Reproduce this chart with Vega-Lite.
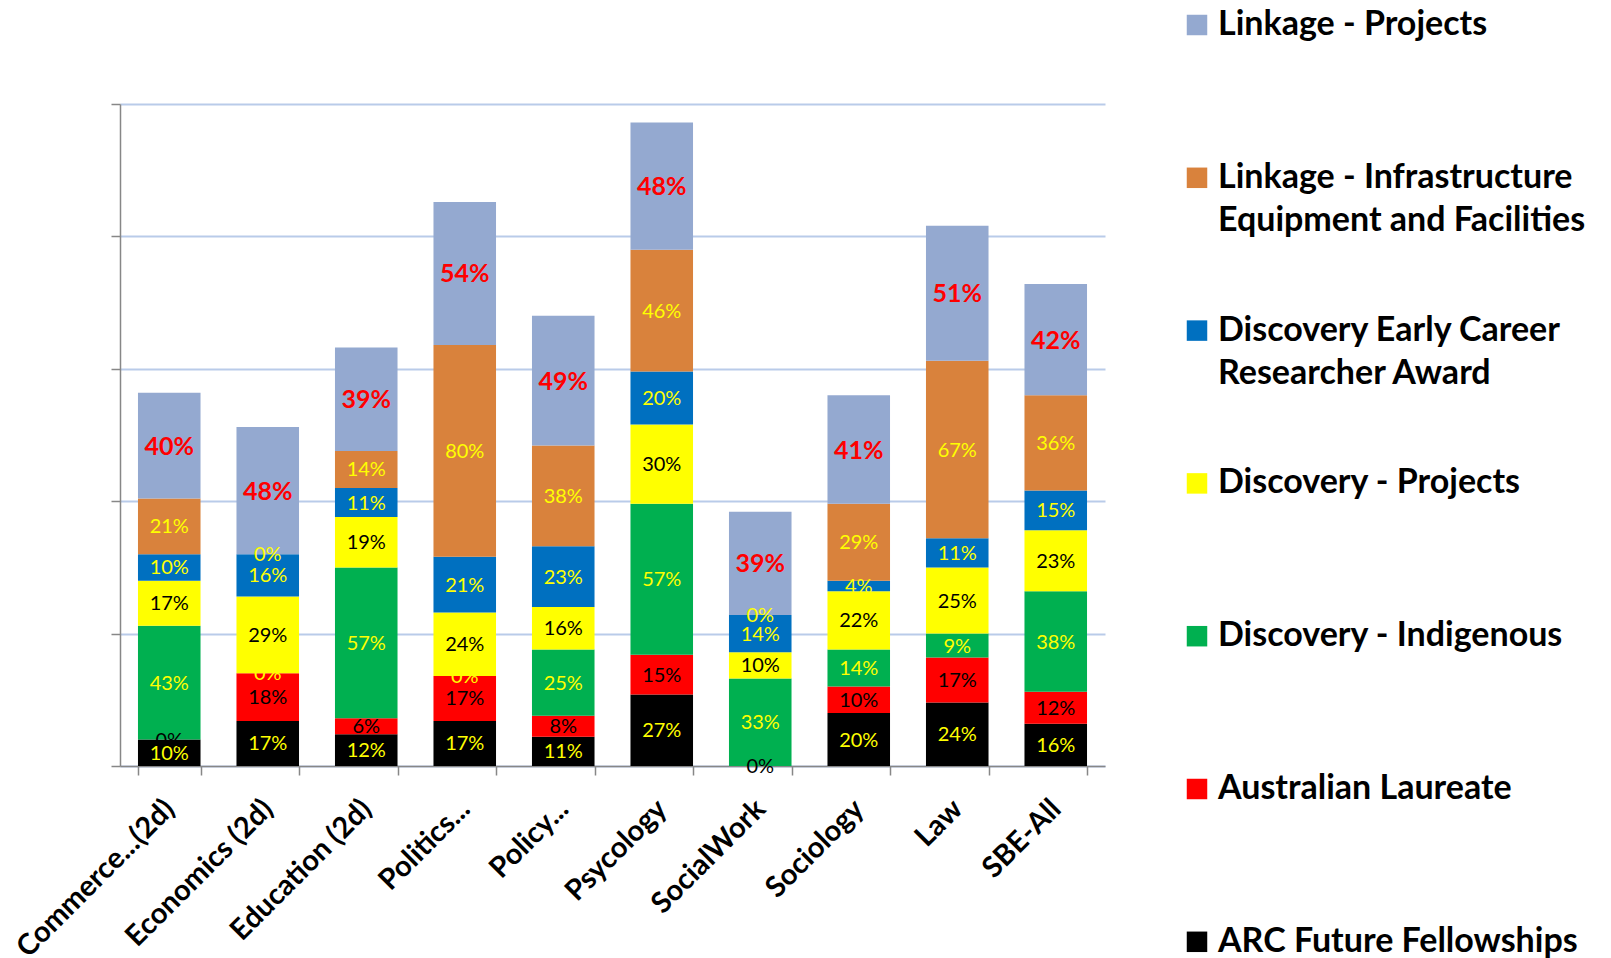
{
  "$schema": "https://vega.github.io/schema/vega-lite/v6.json",
  "width": 985,
  "height": 662,
  "autosize": {"type": "none"},
  "padding": {"left": 120, "top": 104, "right": 506, "bottom": 192},
  "background": "white",
  "config": {
    "view": {"stroke": null},
    "style": {"guide-label": {"lineHeight": 43.5}}
  },
  "data": {
    "values": [
      {"dept": "Commerce...(2d)", "series": "ARC Future Fellowships", "value": 10},
      {"dept": "Commerce...(2d)", "series": "Australian Laureate", "value": 0},
      {"dept": "Commerce...(2d)", "series": "Discovery - Indigenous", "value": 43},
      {"dept": "Commerce...(2d)", "series": "Discovery - Projects", "value": 17},
      {"dept": "Commerce...(2d)", "series": "Discovery Early Career Researcher Award", "value": 10},
      {"dept": "Commerce...(2d)", "series": "Linkage - Infrastructure Equipment and Facilities", "value": 21},
      {"dept": "Commerce...(2d)", "series": "Linkage - Projects", "value": 40},

      {"dept": "Economics (2d)", "series": "ARC Future Fellowships", "value": 17},
      {"dept": "Economics (2d)", "series": "Australian Laureate", "value": 18},
      {"dept": "Economics (2d)", "series": "Discovery - Indigenous", "value": 0},
      {"dept": "Economics (2d)", "series": "Discovery - Projects", "value": 29},
      {"dept": "Economics (2d)", "series": "Discovery Early Career Researcher Award", "value": 16},
      {"dept": "Economics (2d)", "series": "Linkage - Infrastructure Equipment and Facilities", "value": 0},
      {"dept": "Economics (2d)", "series": "Linkage - Projects", "value": 48},

      {"dept": "Education (2d)", "series": "ARC Future Fellowships", "value": 12},
      {"dept": "Education (2d)", "series": "Australian Laureate", "value": 6},
      {"dept": "Education (2d)", "series": "Discovery - Indigenous", "value": 57},
      {"dept": "Education (2d)", "series": "Discovery - Projects", "value": 19},
      {"dept": "Education (2d)", "series": "Discovery Early Career Researcher Award", "value": 11},
      {"dept": "Education (2d)", "series": "Linkage - Infrastructure Equipment and Facilities", "value": 14},
      {"dept": "Education (2d)", "series": "Linkage - Projects", "value": 39},

      {"dept": "Politics...", "series": "ARC Future Fellowships", "value": 17},
      {"dept": "Politics...", "series": "Australian Laureate", "value": 17},
      {"dept": "Politics...", "series": "Discovery - Indigenous", "value": 0},
      {"dept": "Politics...", "series": "Discovery - Projects", "value": 24},
      {"dept": "Politics...", "series": "Discovery Early Career Researcher Award", "value": 21},
      {"dept": "Politics...", "series": "Linkage - Infrastructure Equipment and Facilities", "value": 80},
      {"dept": "Politics...", "series": "Linkage - Projects", "value": 54},

      {"dept": "Policy...", "series": "ARC Future Fellowships", "value": 11},
      {"dept": "Policy...", "series": "Australian Laureate", "value": 8},
      {"dept": "Policy...", "series": "Discovery - Indigenous", "value": 25},
      {"dept": "Policy...", "series": "Discovery - Projects", "value": 16},
      {"dept": "Policy...", "series": "Discovery Early Career Researcher Award", "value": 23},
      {"dept": "Policy...", "series": "Linkage - Infrastructure Equipment and Facilities", "value": 38},
      {"dept": "Policy...", "series": "Linkage - Projects", "value": 49},

      {"dept": "Psycology", "series": "ARC Future Fellowships", "value": 27},
      {"dept": "Psycology", "series": "Australian Laureate", "value": 15},
      {"dept": "Psycology", "series": "Discovery - Indigenous", "value": 57},
      {"dept": "Psycology", "series": "Discovery - Projects", "value": 30},
      {"dept": "Psycology", "series": "Discovery Early Career Researcher Award", "value": 20},
      {"dept": "Psycology", "series": "Linkage - Infrastructure Equipment and Facilities", "value": 46},
      {"dept": "Psycology", "series": "Linkage - Projects", "value": 48},

      {"dept": "SocialWork", "series": "Australian Laureate", "value": 0},
      {"dept": "SocialWork", "series": "Discovery - Indigenous", "value": 33},
      {"dept": "SocialWork", "series": "Discovery - Projects", "value": 10},
      {"dept": "SocialWork", "series": "Discovery Early Career Researcher Award", "value": 14},
      {"dept": "SocialWork", "series": "Linkage - Infrastructure Equipment and Facilities", "value": 0},
      {"dept": "SocialWork", "series": "Linkage - Projects", "value": 39},

      {"dept": "Sociology", "series": "ARC Future Fellowships", "value": 20},
      {"dept": "Sociology", "series": "Australian Laureate", "value": 10},
      {"dept": "Sociology", "series": "Discovery - Indigenous", "value": 14},
      {"dept": "Sociology", "series": "Discovery - Projects", "value": 22},
      {"dept": "Sociology", "series": "Discovery Early Career Researcher Award", "value": 4},
      {"dept": "Sociology", "series": "Linkage - Infrastructure Equipment and Facilities", "value": 29},
      {"dept": "Sociology", "series": "Linkage - Projects", "value": 41},

      {"dept": "Law", "series": "ARC Future Fellowships", "value": 24},
      {"dept": "Law", "series": "Australian Laureate", "value": 17},
      {"dept": "Law", "series": "Discovery - Indigenous", "value": 9},
      {"dept": "Law", "series": "Discovery - Projects", "value": 25},
      {"dept": "Law", "series": "Discovery Early Career Researcher Award", "value": 11},
      {"dept": "Law", "series": "Linkage - Infrastructure Equipment and Facilities", "value": 67},
      {"dept": "Law", "series": "Linkage - Projects", "value": 51},

      {"dept": "SBE-All", "series": "ARC Future Fellowships", "value": 16},
      {"dept": "SBE-All", "series": "Australian Laureate", "value": 12},
      {"dept": "SBE-All", "series": "Discovery - Indigenous", "value": 38},
      {"dept": "SBE-All", "series": "Discovery - Projects", "value": 23},
      {"dept": "SBE-All", "series": "Discovery Early Career Researcher Award", "value": 15},
      {"dept": "SBE-All", "series": "Linkage - Infrastructure Equipment and Facilities", "value": 36},
      {"dept": "SBE-All", "series": "Linkage - Projects", "value": 42}
    ]
  },
  "transform": [
    {"calculate": "indexof(['ARC Future Fellowships','Australian Laureate','Discovery - Indigenous','Discovery - Projects','Discovery Early Career Researcher Award','Linkage - Infrastructure Equipment and Facilities','Linkage - Projects'], datum.series)", "as": "rank"},
    {"stack": "value", "groupby": ["dept"], "sort": [{"field": "rank", "order": "ascending"}], "as": ["v0", "v1"]},
    {"calculate": "(datum.v0 + datum.v1) / 2", "as": "mid"},
    {"calculate": "datum.value + '%'", "as": "lbl"}
  ],
  "encoding": {
    "x": {
      "field": "dept",
      "type": "nominal",
      "sort": null,
      "scale": {"paddingInner": 0.365, "paddingOuter": 0.1825},
      "axis": {
        "title": null,
        "labelAngle": -45,
        "labelAlign": "right",
        "labelBaseline": "middle",
        "labelFont": "Lato",
        "labelFontSize": 29,
        "labelFontWeight": "bold",
        "labelColor": "#000000",
        "labelPadding": 29,
        "labelLimit": 0,
        "tickBand": "extent",
        "tickSize": 9,
        "tickWidth": 1.5,
        "tickColor": "#878787",
        "domainColor": "#878787",
        "domainWidth": 1.5,
        "grid": false
      }
    }
  },
  "layer": [
    {
      "mark": {"type": "bar"},
      "encoding": {
        "y": {
          "field": "v0",
          "type": "quantitative",
          "scale": {"domain": [0, 250], "nice": false},
          "axis": {
            "title": null,
            "labels": false,
            "values": [0, 50, 100, 150, 200, 250],
            "tickSize": 9,
            "tickWidth": 1.5,
            "tickColor": "#878787",
            "domainColor": "#878787",
            "domainWidth": 1.5,
            "grid": true,
            "gridColor": "#b9cbe9",
            "gridWidth": 2
          }
        },
        "y2": {"field": "v1"},
        "color": {
          "field": "series",
          "type": "nominal",
          "scale": {
            "domain": ["Linkage - Projects", "Linkage - Infrastructure Equipment and Facilities", "Discovery Early Career Researcher Award", "Discovery - Projects", "Discovery - Indigenous", "Australian Laureate", "ARC Future Fellowships"],
            "range": ["#94a9d0", "#d9823c", "#0070c0", "#ffff00", "#00b050", "#ff0000", "#000000"]
          },
          "legend": {
            "title": null,
            "orient": "none",
            "legendX": 1060,
            "legendY": -96,
            "padding": 0,
            "symbolType": "square",
            "symbolSize": 420,
            "symbolStrokeWidth": 0,
            "labelFont": "Lato",
            "labelFontSize": 34,
            "labelFontWeight": "bold",
            "labelColor": "#000000",
            "labelOffset": 4,
            "labelLimit": 0,
            "labelBaseline": "middle",
            "rowPadding": 74.8,
            "labelExpr": "datum.label == 'Linkage - Infrastructure Equipment and Facilities' ? ['Linkage - Infrastructure', 'Equipment and Facilities'] : datum.label == 'Discovery Early Career Researcher Award' ? ['Discovery Early Career', 'Researcher Award'] : [datum.label, '']"
          }
        }
      }
    },
    {
      "transform": [{"filter": "datum.series != 'Linkage - Projects'"}],
      "mark": {"type": "text", "font": "Lato", "fontSize": 20, "baseline": "middle", "align": "center", "dy": 1},
      "encoding": {
        "y": {"field": "mid", "type": "quantitative"},
        "text": {"field": "lbl"},
        "color": {
          "condition": [
            {"test": "datum.series == 'Discovery - Projects' || datum.series == 'Australian Laureate'", "value": "#000000"}
          ],
          "value": "#ffff00"
        }
      }
    },
    {
      "transform": [{"filter": "datum.series == 'Linkage - Projects'"}],
      "mark": {"type": "text", "font": "Lato", "fontSize": 25, "fontWeight": "bold", "baseline": "middle", "align": "center", "color": "#ff0000", "dy": 1},
      "encoding": {
        "y": {"field": "mid", "type": "quantitative"},
        "text": {"field": "lbl"}
      }
    }
  ]
}
